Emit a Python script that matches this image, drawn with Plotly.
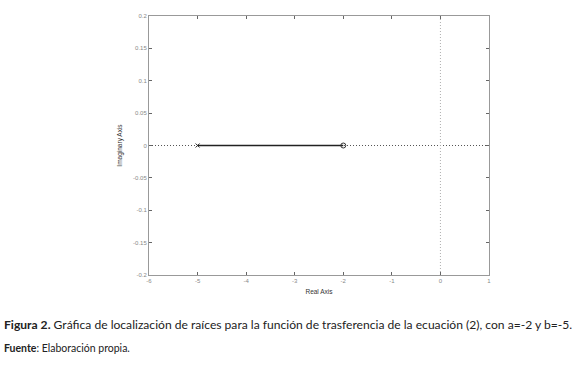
import plotly.graph_objects as go

# Data
poles = [-5]
zeros = [-2]
locus_x = [-5, -2]
locus_y = [0, 0]
x_ticks = [-6, -5, -4, -3, -2, -1, 0, 1]
y_ticks = [-0.2, -0.15, -0.1, -0.05, 0, 0.05, 0.1, 0.15, 0.2]
y_tick_labels = ["-0.2", "-0.15", "-0.1", "-0.05", "0", "0.05", "0.1", "0.15", "0.2"]
x_title = "Real Axis"
y_title = "Imaginary Axis"
caption = "<b>Figura 2.</b> Gráfica de localización de raíces para la función de trasferencia de la ecuación (2), con a=-2 y b=-5."
source = "<b>Fuente</b>: Elaboración propia."

fig = go.Figure()
fig.add_hline(y=0, line=dict(color="#555555", width=1, dash="1px,2px"), layer="below")
fig.add_vline(x=0, line=dict(color="#b0b0b0", width=1, dash="1px,2px"), layer="below")
fig.add_trace(go.Scatter(x=locus_x, y=locus_y, mode="lines",
                         line=dict(color="#222222", width=1.5), showlegend=False))
fig.add_trace(go.Scatter(x=poles, y=[0] * len(poles), mode="markers",
                         marker=dict(symbol="x-thin", size=4, line=dict(color="#333333", width=1)),
                         showlegend=False))
fig.add_trace(go.Scatter(x=zeros, y=[0] * len(zeros), mode="markers",
                         marker=dict(symbol="circle-open", size=5, color="#333333", line=dict(width=1)),
                         showlegend=False))

axis_common = dict(showline=True, linecolor="#999999", linewidth=1, mirror="ticks",
                   ticks="inside", ticklen=3, tickcolor="#666666", showgrid=False, zeroline=False,
                   tickfont=dict(family="Arial", size=6, color="#888888"))
fig.update_xaxes(range=[-6, 1], tickvals=x_ticks, ticktext=[str(v) for v in x_ticks],
                 title=dict(text=x_title, font=dict(family="Arial", size=6.5, color="#333333"), standoff=6),
                 **axis_common)
fig.update_yaxes(range=[-0.2, 0.2], tickvals=y_ticks, ticktext=y_tick_labels,
                 title=dict(text=y_title, font=dict(family="Arial", size=6.5, color="#333333"), standoff=9),
                 **axis_common)

fig.add_annotation(text=caption, xref="paper", yref="paper", x=-0.433, y=-0.19,
                   xanchor="left", yanchor="middle", showarrow=False,
                   font=dict(family="Lato", size=12.1, color="#222222"))
fig.add_annotation(text=source, xref="paper", yref="paper", x=-0.433, y=-0.282,
                   xanchor="left", yanchor="middle", showarrow=False,
                   font=dict(family="Lato", size=10.5, color="#222222"))

fig.update_layout(width=580, height=372, margin=dict(l=149, r=91, t=16, b=97),
                  plot_bgcolor="white", paper_bgcolor="white")
fig.write_html("out.html", config={"displayModeBar": False},
               post_script="document.body.style.margin='0';document.body.style.overflow='hidden';")
